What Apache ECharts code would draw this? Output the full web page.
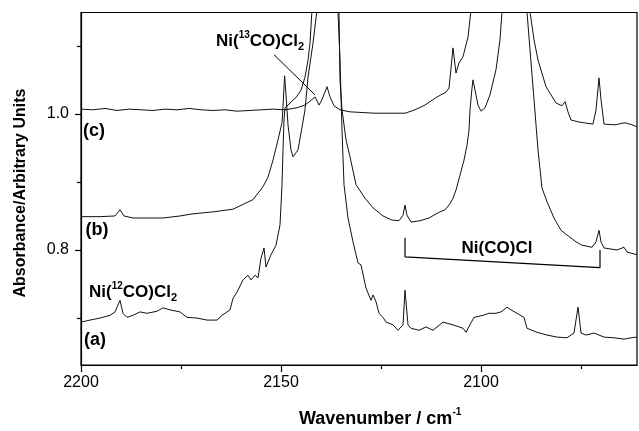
<!DOCTYPE html>
<html>
<head>
<meta charset="utf-8">
<script src="https://cdn.jsdelivr.net/npm/echarts@6.0.0/dist/echarts.min.js"></script>
<style>
  html, body { margin: 0; padding: 0; background: #fff; }
  #grafica { width: 639px; height: 431px; }
</style>
</head>
<body>
<div id="grafica"></div>
<script>
// Ejes
let ticksMayorX = [2200, 2150, 2100];
let ticksMenorX = [2175, 2125, 2075];
let ticksMayorY = [0.8, 1.0];
let ticksMenorY = [0.7, 0.9, 1.1];

// Espectro (a)
let numOndaA = [2200, 2197.75, 2195.25, 2192.75, 2191.5, 2190.25, 2189.5, 2188.5, 2187, 2185.25, 2183.5, 2181, 2179.5, 2177.75, 2175.25, 2173.5, 2171, 2168.5, 2166, 2164.75, 2162.75, 2162, 2161, 2159.5, 2158.25, 2157.5, 2156.5, 2155.75, 2155, 2154.25, 2153.75, 2153.25, 2152.5, 2151.25, 2150.25, 2150, 2149.75, 2149.5, 2149.25, 2149, 2148.25, 2147.25, 2146.25, 2145, 2144, 2143.25, 2142.75, 2142.25, 2141, 2137, 2136.5, 2135.75, 2135.25, 2134.75, 2134.25, 2133.25, 2132, 2130.75, 2130, 2128.75, 2127.5, 2127, 2126.25, 2125.5, 2124.5, 2123.75, 2122, 2120.75, 2119.5, 2119, 2118.25, 2117.5, 2115.5, 2113.75, 2112, 2109.5, 2107, 2104.5, 2103.75, 2102.5, 2101.75, 2099.5, 2098, 2096.25, 2095, 2093.5, 2092.5, 2091, 2089.25, 2088.5, 2086, 2083.5, 2081, 2078.5, 2076.75, 2075.75, 2075, 2073.75, 2071.75, 2069.25, 2066.75, 2064.25, 2062.5, 2061];
let absA = [0.694, 0.697, 0.700, 0.704, 0.709, 0.726, 0.707, 0.701, 0.704, 0.709, 0.707, 0.710, 0.715, 0.712, 0.709, 0.701, 0.700, 0.697, 0.697, 0.704, 0.712, 0.729, 0.738, 0.756, 0.763, 0.756, 0.763, 0.759, 0.788, 0.803, 0.775, 0.774, 0.793, 0.807, 0.837, 0.866, 0.896, 0.947, 0.991, 1.009, 1.013, 1.019, 1.024, 1.035, 1.054, 1.079, 1.104, 1.153, 1.3, 1.8, 1.3, 1.150, 1.079, 0.976, 0.896, 0.847, 0.812, 0.781, 0.778, 0.744, 0.726, 0.734, 0.724, 0.707, 0.701, 0.694, 0.690, 0.682, 0.690, 0.741, 0.690, 0.685, 0.682, 0.687, 0.682, 0.694, 0.690, 0.685, 0.679, 0.693, 0.701, 0.704, 0.707, 0.707, 0.709, 0.716, 0.712, 0.707, 0.701, 0.685, 0.679, 0.675, 0.672, 0.671, 0.678, 0.716, 0.678, 0.675, 0.678, 0.672, 0.671, 0.669, 0.671, 0.672];

// Espectro (b)
let numOndaB = [2200, 2195.25, 2191.5, 2190.25, 2189.25, 2187, 2182.75, 2179.5, 2175.25, 2172.25, 2167, 2162, 2157, 2154.5, 2153.25, 2152, 2150.75, 2149.75, 2149.4, 2149.1, 2148.75, 2148.25, 2147.5, 2147, 2146.5, 2145.75, 2145, 2144, 2143.25, 2142, 2141, 2139, 2137.5, 2136.5, 2135.5, 2135.25, 2134.75, 2133.75, 2132.75, 2131.25, 2129, 2127, 2124.5, 2122.25, 2120.5, 2119.5, 2119, 2118.5, 2117.5, 2115.25, 2113, 2111.25, 2110.25, 2109, 2107.75, 2107, 2106.25, 2105.25, 2104.25, 2103.5, 2103, 2102.75, 2102.25, 2102, 2101.5, 2100.75, 2100, 2099, 2097.75, 2096.25, 2095.25, 2094.75, 2092, 2090, 2088.5, 2087.75, 2086.75, 2085.75, 2084.75, 2083.5, 2081.75, 2080, 2078.5, 2076.25, 2074.75, 2072.25, 2071.25, 2070.5, 2070, 2069.25, 2066, 2064.25, 2063.5, 2061];
let absB = [0.849, 0.849, 0.850, 0.859, 0.850, 0.847, 0.847, 0.847, 0.850, 0.853, 0.856, 0.860, 0.874, 0.893, 0.907, 0.932, 0.962, 0.987, 1.021, 1.056, 1.028, 0.984, 0.947, 0.937, 0.937, 0.947, 0.972, 1.006, 1.054, 1.104, 1.153, 1.5, 1.8, 1.4, 1.150, 1.050, 1.006, 0.962, 0.937, 0.896, 0.876, 0.862, 0.850, 0.844, 0.843, 0.851, 0.866, 0.851, 0.841, 0.843, 0.847, 0.853, 0.856, 0.859, 0.868, 0.876, 0.888, 0.910, 0.932, 0.954, 0.976, 1.006, 1.038, 1.050, 1.035, 1.013, 1.004, 1.009, 1.028, 1.065, 1.109, 1.150, 1.6, 1.6, 1.150, 1.094, 1.021, 0.947, 0.891, 0.871, 0.847, 0.829, 0.822, 0.812, 0.807, 0.804, 0.812, 0.829, 0.812, 0.803, 0.800, 0.804, 0.797, 0.793];

// Espectro (c)
let numOndaC = [2200, 2197, 2194, 2191, 2188, 2185, 2182, 2179, 2176, 2173, 2170, 2167, 2164, 2161, 2158, 2155, 2152, 2149, 2146, 2144, 2142.25, 2141.5, 2140.5, 2139.75, 2138.5, 2137.75, 2136.75, 2135.25, 2132.75, 2129.5, 2126.5, 2123.25, 2119, 2116.5, 2114, 2111.25, 2108.75, 2108, 2107, 2106.25, 2105.5, 2104.5, 2103.25, 2102.5, 2098, 2092, 2089, 2087.75, 2086.75, 2085.75, 2083.75, 2081.25, 2079.75, 2079, 2078.25, 2077.5, 2075.5, 2072, 2071.25, 2070.5, 2070, 2069.25, 2066.5, 2064, 2062.25, 2061];
let absC = [1.007, 1.006, 1.008, 1.005, 1.007, 1.006, 1.005, 1.007, 1.006, 1.008, 1.006, 1.005, 1.006, 1.004, 1.005, 1.006, 1.007, 1.006, 1.009, 1.013, 1.021, 1.025, 1.013, 1.021, 1.040, 1.025, 1.012, 1.006, 1.003, 1.002, 1.001, 1.001, 1.001, 1.006, 1.013, 1.024, 1.032, 1.038, 1.097, 1.060, 1.075, 1.084, 1.113, 1.153, 1.6, 1.7, 1.5, 1.150, 1.109, 1.079, 1.040, 1.016, 1.012, 1.018, 1.003, 0.991, 0.988, 0.985, 1.006, 1.053, 1.021, 0.985, 0.984, 0.987, 0.984, 0.981];

// Anotaciones (flecha 13CO y corchete Ni(CO)Cl)
let flecha13 = [[2151.75, 1.087], [2141.5, 1.028]];
let corchete = [[2119, 0.818], [2119, 0.790], [2070.25, 0.774], [2070.25, 0.800]];

function pares(xs, ys) {
    let out = [];
    for (let i = 0; i < xs.length; i++) {
        out.push([xs[i], ys[i]]);
    }
    return out;
}

let fuente = 'Liberation Sans, Arial, sans-serif';
let estiloTraza = { color: '#111', width: 1 };

let chartDom = document.getElementById('grafica');
let myChart = echarts.init(chartDom, null, { renderer: 'canvas' });

let richNi = {
    n: { fontSize: 17, fontWeight: 'bold', fontFamily: fuente, color: '#000', lineHeight: 22 },
    sup: { fontSize: 10, fontWeight: 'bold', fontFamily: fuente, color: '#000', lineHeight: 11, verticalAlign: 'top' },
    sub: { fontSize: 11, fontWeight: 'bold', fontFamily: fuente, color: '#000', lineHeight: 11, verticalAlign: 'bottom' }
};

function etiqueta(x, y, texto, tam) {
    return {
        type: 'text',
        x: x,
        y: y,
        style: {
            text: texto,
            font: 'bold ' + (tam || 17) + 'px ' + fuente,
            fill: '#000',
            textAlign: 'center',
            textVerticalAlign: 'middle'
        }
    };
}

let option = {
    animation: false,
    backgroundColor: '#fff',
    grid: {
        left: 81,
        right: 2,
        top: 12.5,
        bottom: 66,
        show: true,
        borderColor: '#000',
        borderWidth: 1.2
    },
    xAxis: [
        {
            type: 'value',
            inverse: true,
            min: 2061,
            max: 2200,
            axisLine: { show: true, lineStyle: { color: '#000', width: 1.2 } },
            axisTick: { show: true, length: 7, customValues: ticksMayorX, lineStyle: { color: '#000', width: 1.2 } },
            axisLabel: { customValues: ticksMayorX, fontSize: 16, color: '#000', margin: 10, fontFamily: fuente, formatter: v => String(v) },
            splitLine: { show: false }
        },
        {
            type: 'value',
            inverse: true,
            min: 2061,
            max: 2200,
            position: 'bottom',
            axisLine: { show: false },
            axisTick: { show: true, length: 4, customValues: ticksMenorX, lineStyle: { color: '#000', width: 1.2 } },
            axisLabel: { show: false },
            splitLine: { show: false }
        }
    ],
    yAxis: [
        {
            type: 'value',
            min: 0.631,
            max: 1.149,
            axisLine: { show: true, lineStyle: { color: '#000', width: 1.2 } },
            axisTick: { show: true, length: 6, customValues: ticksMayorY, lineStyle: { color: '#000', width: 1.2 } },
            axisLabel: { customValues: ticksMayorY, fontSize: 16, color: '#000', margin: 12, fontFamily: fuente, formatter: v => v.toFixed(1) },
            splitLine: { show: false }
        },
        {
            type: 'value',
            min: 0.631,
            max: 1.149,
            position: 'left',
            axisLine: { show: false },
            axisTick: { show: true, length: 4, customValues: ticksMenorY, lineStyle: { color: '#000', width: 1.2 } },
            axisLabel: { show: false },
            splitLine: { show: false }
        }
    ],
    series: [
        { name: '(a)', type: 'line', symbol: 'none', lineStyle: estiloTraza, data: pares(numOndaA, absA) },
        { name: '(b)', type: 'line', symbol: 'none', lineStyle: estiloTraza, data: pares(numOndaB, absB) },
        { name: '(c)', type: 'line', symbol: 'none', lineStyle: estiloTraza, data: pares(numOndaC, absC) },
        { name: 'flecha', type: 'line', symbol: 'none', lineStyle: { color: '#000', width: 1 }, data: flecha13 },
        { name: 'corchete', type: 'line', symbol: 'none', lineStyle: { color: '#000', width: 1.2 }, data: corchete }
    ],
    graphic: [
        {
            type: 'text', left: 216, top: 30,
            style: { text: '{n|Ni(}{sup|13}{n|CO)Cl}{sub|2}', rich: richNi }
        },
        {
            type: 'text', left: 89, top: 281,
            style: { text: '{n|Ni(}{sup|12}{n|CO)Cl}{sub|2}', rich: richNi }
        },
        etiqueta(94, 131, '(c)', 18),
        etiqueta(97, 230, '(b)', 18),
        etiqueta(95, 340, '(a)', 18),
        etiqueta(497, 248, 'Ni(CO)Cl', 17),
        {
            type: 'text',
            x: 21,
            y: 193,
            rotation: Math.PI / 2,
            style: {
                text: 'Absorbance/Arbitrary Units',
                font: 'bold 16px ' + fuente,
                fill: '#000',
                textAlign: 'center',
                textVerticalAlign: 'middle'
            }
        },
        {
            type: 'text', left: 299, top: 407,
            style: {
                text: '{t|Wavenumber / cm}{sup|-1}',
                rich: {
                    t: { fontSize: 18, fontWeight: 'bold', fontFamily: fuente, color: '#000', lineHeight: 24 },
                    sup: { fontSize: 10, fontWeight: 'bold', fontFamily: fuente, color: '#000', lineHeight: 11, verticalAlign: 'top' }
                }
            }
        }
    ]
};

option && myChart.setOption(option);
</script>
</body>
</html>
